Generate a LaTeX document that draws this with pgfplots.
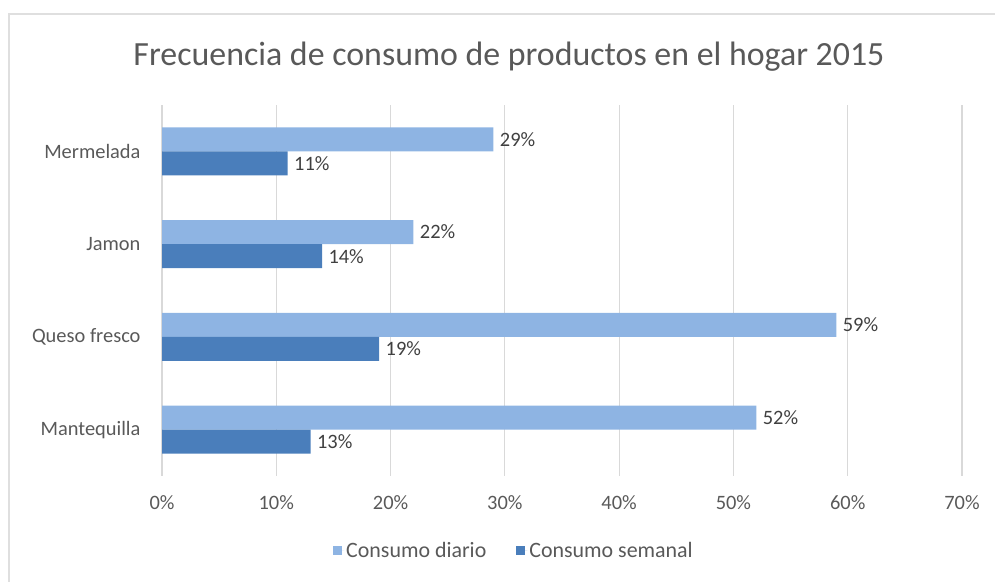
\documentclass[border=0pt]{standalone}
\usepackage{fontspec}
\setmainfont{Carlito}
\usepackage{pgfplots}
\pgfplotsset{compat=1.18}
\definecolor{diario}{HTML}{8EB4E3}
\definecolor{semanal}{HTML}{4A7EBB}
\definecolor{txt}{HTML}{595959}
\definecolor{lbl}{HTML}{404040}
\definecolor{gridc}{HTML}{D9D9D9}
\begin{document}
\begin{tikzpicture}
\useasboundingbox (0bp,0bp) rectangle (995bp,582bp);
\draw[gray!25, line width=1.5bp] (9bp,0bp) -- (9bp,568bp) -- (995bp,568bp);
\node[text=txt, font=\fontsize{34}{40}\selectfont] at (509bp,525bp)
  {Frecuencia de consumo de productos en el hogar 2015};
\begin{axis}[
    at={(162bp,106bp)}, anchor=south west,
    scale only axis, width=800bp, height=371bp,
    xbar, bar width=0.26,
    xmin=0, xmax=70, ymin=-0.5, ymax=3.5,
    ytick={0,1,2,3},
    yticklabels={Mantequilla, Queso fresco, Jamon, Mermelada},
    xtick={0,10,...,70},
    xticklabel={\pgfmathprintnumber{\tick}\%},
    /pgf/number format/assume math mode=true,
    axis line style={draw=none},
    major tick length=0pt,
    xmajorgrids, ymajorgrids=false,
    grid style={draw=gridc, line width=1.2bp},
    ticklabel style={font=\fontsize{20.5}{24}\selectfont, text=txt},
    xticklabel style={yshift=-16bp},
    yticklabel style={xshift=-18bp},
    point meta=x,
    nodes near coords={\pgfmathprintnumber{\pgfplotspointmeta}\%},
    every node near coord/.append style={font=\fontsize{20.5}{24}\selectfont,
      text=lbl, anchor=west, xshift=3bp},
    legend style={at={(0.44,-0.2)}, anchor=center, draw=none,
      font=\fontsize{22}{26}\selectfont, text=txt,
      /tikz/every even column/.append style={column sep=28bp}},
    legend columns=2,
    legend image code/.code={
      \path (0bp,0bp) -- (11bp,0bp);
      \path[#1, draw=none] (0bp,-4.5bp) rectangle (9bp,4.5bp);},
]
\addplot[fill=diario, draw=none, bar shift=0.13] coordinates {
    (52,0) (59,1) (22,2) (29,3)
};
\addplot[fill=semanal, draw=none, bar shift=-0.13] coordinates {
    (13,0) (19,1) (14,2) (11,3)
};
\legend{Consumo diario, Consumo semanal}
\end{axis}
\end{tikzpicture}
\end{document}
